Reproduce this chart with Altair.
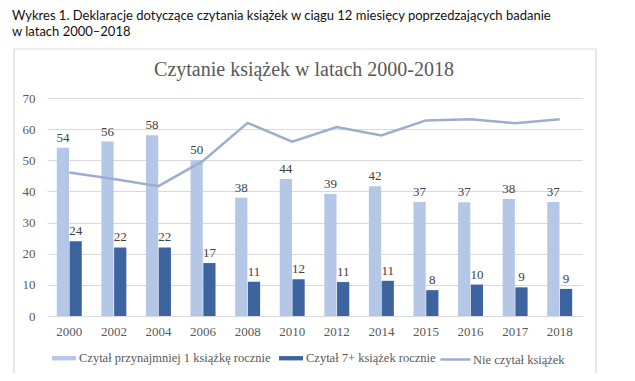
import altair as alt
import pandas as pd

# ---- data ----
years = ["2000", "2002", "2004", "2006", "2008", "2010", "2012", "2014",
         "2015", "2016", "2017", "2018"]
series_light = "Czytał przynajmniej 1 książkę rocznie"
series_dark = "Czytał 7+ książek rocznie"
series_line = "Nie czytał książek"
light_vals = [54, 56, 58, 50, 38, 44, 39.2, 41.7, 36.6, 36.5, 37.6, 36.6]
dark_vals = [24, 22, 22, 17, 11, 11.8, 10.9, 11.3, 8.3, 10.1, 9.2, 8.7]
line_vals = [46.1, 44, 41.7, 49.8, 62, 56, 60.7, 58, 62.8, 63.2, 61.9, 63.2]
y_ticks = [0, 10, 20, 30, 40, 50, 60, 70]

caption_1 = "Wykres 1. Deklaracje dotyczące czytania książek w ciągu 12 miesięcy poprzedzających badanie"
caption_2 = "w latach 2000–2018"
chart_title = "Czytanie książek w latach 2000-2018"

# ---- styling ----
SERIF = "Liberation Serif"
SANS = "Lato"
C_LIGHT = "#B4C7E7"
C_DARK = "#3E64A0"
C_LINE = "#9DADD2"
C_TEXT = "#595959"
C_GRID = "#D9D9D9"

bars_df = pd.DataFrame({
    "rok": years * 2,
    "seria": [series_light] * len(years) + [series_dark] * len(years),
    "wartosc": light_vals + dark_vals,
})
line_df = pd.DataFrame({"rok": years, "linia": [series_line] * len(years), "wartosc": line_vals})
one = pd.DataFrame({"k": [0]})

x_enc = alt.X("rok:O", sort=years,
              scale=alt.Scale(paddingInner=0.44, paddingOuter=0.22),
              axis=alt.Axis(title=None, labelAngle=0, domain=False, ticks=False,
                            labelPadding=9, labelFont=SERIF, labelFontSize=13,
                            labelColor=C_TEXT, grid=False))
y_enc = alt.Y("wartosc:Q", scale=alt.Scale(domain=[0, 70], nice=False),
              axis=alt.Axis(title=None, values=y_ticks, domain=False, ticks=False,
                            labelPadding=12, labelFont=SERIF, labelFontSize=13,
                            labelColor=C_TEXT, grid=True, gridColor=C_GRID, gridWidth=1,
                            labelOverlap=False))
xoff = alt.XOffset("seria:N", sort=[series_light, series_dark],
                   scale=alt.Scale(domain=[series_light, series_dark], paddingInner=0.04))

frame = alt.Chart(one).mark_rect(fill="transparent", stroke=C_GRID, strokeWidth=1.2).encode(
    x=alt.value(-33), x2=alt.value(549), y=alt.value(-49), y2=alt.value(280))

cap1 = alt.Chart(one).mark_text(align="left", baseline="middle", font=SANS, fontSize=13,
                                color="#111111").encode(
    x=alt.value(-35), y=alt.value(-82), text=alt.value(caption_1))
cap2 = alt.Chart(one).mark_text(align="left", baseline="middle", font=SANS, fontSize=13,
                                color="#111111").encode(
    x=alt.value(-35), y=alt.value(-66), text=alt.value(caption_2))
title_t = alt.Chart(one).mark_text(align="center", baseline="middle", font=SERIF, fontSize=20,
                                   color=C_TEXT).encode(
    x=alt.value(257), y=alt.value(-28), text=alt.value(chart_title))

bars = alt.Chart(bars_df).mark_bar().encode(
    x=x_enc, y=y_enc, xOffset=xoff,
    fill=alt.Fill("seria:N",
                  scale=alt.Scale(domain=[series_light, series_dark], range=[C_LIGHT, C_DARK]),
                  legend=alt.Legend(orient="none", legendX=5, legendY=248, direction="horizontal",
                                    title=None, symbolType="M-1,-0.18H1V0.18H-1Z", symbolSize=576,
                                    symbolStrokeWidth=0, labelFont=SERIF, labelFontSize=12.5,
                                    labelColor=C_TEXT, columnPadding=8, labelOffset=3,
                                    labelLimit=400)))

bar_labels = alt.Chart(bars_df).mark_text(baseline="alphabetic", dy=-6, font=SERIF, fontSize=13,
                                          color="#404040").encode(
    x=x_enc, xOffset=xoff, y=y_enc,
    text=alt.Text("wartosc:Q", format=".0f"))

line = alt.Chart(line_df).mark_line(strokeWidth=2.5).encode(
    x=x_enc, y=y_enc,
    stroke=alt.Stroke("linia:N", scale=alt.Scale(domain=[series_line], range=[C_LINE]),
                      legend=alt.Legend(orient="none", legendX=392, legendY=245, title=None,
                                        symbolType="M-1,0H1", symbolSize=900,
                                        symbolStrokeWidth=2.5, labelFont=SERIF,
                                        labelFontSize=12.5, labelColor=C_TEXT, labelOffset=1,
                                        labelLimit=400)))

chart = alt.layer(frame, cap1, cap2, title_t, bars, bar_labels, line).resolve_scale(
    fill="independent", stroke="independent"
).properties(
    width=535, height=218,
    autosize=alt.AutoSizeParams(type="none"),
    padding={"left": 39, "top": 90, "right": 45, "bottom": 57},
).configure_view(stroke=None).configure_axis(
    labelFont=SERIF, labelFontSize=13, labelColor=C_TEXT
)

chart.save("out.html", embed_options={"renderer": "svg", "actions": False})
